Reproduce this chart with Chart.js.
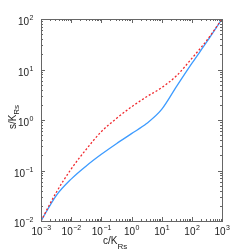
<!DOCTYPE html>
<html>
<head>
<meta charset="utf-8">
<script src="https://cdn.jsdelivr.net/npm/chart.js@4"></script>
<style>
  html, body { margin: 0; padding: 0; background: #fff; }
  canvas { display: block; }
</style>
</head>
<body>
<canvas id="chart" width="245" height="249"></canvas>
<script>
// c/K_Rs values (log spaced, half decades)
const cVals = [0.001, 0.00316, 0.01, 0.0316, 0.1, 0.316, 1, 3.16, 10, 31.6, 100, 316, 1000];
// s/K_Rs, blue solid curve
const sBlue = [0.01, 0.0316, 0.0676, 0.123, 0.209, 0.339, 0.537, 0.851, 1.62, 4.68, 13.2, 35.5, 100];
// s/K_Rs, red dashed curve
const sRed = [0.01, 0.0363, 0.107, 0.263, 0.589, 1.07, 1.82, 2.88, 4.37, 7.59, 16.6, 38.0, 100];
const xExps = [-3, -2, -1, 0, 1, 2, 3];
const yExps = [-2, -1, 0, 1, 2];

const FONT = '"Liberation Sans", Arial, sans-serif';

function pts(ys) {
  return cVals.map((c, i) => ({ x: c, y: ys[i] }));
}

// box, inward ticks, labels with superscripts and subscripted titles
const axesPlugin = {
  id: 'axesPlugin',
  afterDraw(chart) {
    const ctx = chart.ctx;
    const a = chart.chartArea;
    const xs = chart.scales.x, ys = chart.scales.y;
    ctx.save();
    ctx.strokeStyle = '#666';
    ctx.lineWidth = 1;
    ctx.strokeRect(Math.round(a.left) + 0.5, Math.round(a.top) + 0.5,
      Math.round(a.right - a.left), Math.round(a.bottom - a.top));

    ctx.beginPath();
    for (let n = -3; n <= 3; n++) {
      for (let m = 1; m < 10; m++) {
        const v = m * Math.pow(10, n);
        if (v > 1000) break;
        const px = Math.round(xs.getPixelForValue(v)) + 0.5;
        const len = m === 1 ? 4 : 2;
        ctx.moveTo(px, a.bottom); ctx.lineTo(px, a.bottom - len);
        ctx.moveTo(px, a.top); ctx.lineTo(px, a.top + len);
      }
    }
    for (let n = -2; n <= 2; n++) {
      for (let m = 1; m < 10; m++) {
        const v = m * Math.pow(10, n);
        if (v > 100) break;
        const py = Math.round(ys.getPixelForValue(v)) + 0.5;
        const len = m === 1 ? 4 : 2;
        ctx.moveTo(a.left, py); ctx.lineTo(a.left + len, py);
        ctx.moveTo(a.right, py); ctx.lineTo(a.right - len, py);
      }
    }
    ctx.stroke();

    ctx.fillStyle = '#222';
    ctx.textBaseline = 'alphabetic';
    ctx.textAlign = 'left';
    const big = '10px ' + FONT, small = '7px ' + FONT;

    xExps.forEach(n => {
      const px = xs.getPixelForValue(Math.pow(10, n));
      const e = String(n).replace('-', '\u2212');
      ctx.font = big; const w1 = ctx.measureText('10').width;
      ctx.font = small; const w2 = ctx.measureText(e).width;
      const x0 = px - (w1 + w2) / 2;
      ctx.font = big; ctx.fillText('10', x0, 235);
      ctx.font = small; ctx.fillText(e, x0 + w1 + 0.5, 229.5);
    });

    yExps.forEach(n => {
      const py = ys.getPixelForValue(Math.pow(10, n));
      const e = String(n).replace('-', '\u2212');
      ctx.font = big; const w1 = ctx.measureText('10').width;
      ctx.font = small; const w2 = ctx.measureText(e).width;
      const x0 = 33 - w1 - w2;
      ctx.font = big; ctx.fillText('10', x0, py + 6);
      ctx.font = small; ctx.fillText(e, x0 + w1 + 0.5, py + 1);
    });

    // x title: c/K_Rs
    ctx.font = big;
    let wm = ctx.measureText('c/K').width;
    ctx.fillText('c/K', 103, 244);
    ctx.font = '8px ' + FONT;
    ctx.fillText('Rs', 103 + wm, 248.5);

    // y title: s/K_Rs rotated
    ctx.save();
    ctx.translate(15.5, 117);
    ctx.rotate(-Math.PI / 2);
    ctx.font = big;
    wm = ctx.measureText('s/K').width;
    ctx.font = '8px ' + FONT;
    const ws = ctx.measureText('Rs').width;
    const s0 = -(wm + ws) / 2;
    ctx.font = big;
    ctx.fillText('s/K', s0, 0);
    ctx.font = '8px ' + FONT;
    ctx.fillText('Rs', s0 + wm, 3.5);
    ctx.restore();

    ctx.restore();
  }
};

new Chart(document.getElementById('chart'), {
  type: 'line',
  data: {
    datasets: [
      {
        data: pts(sRed),
        borderColor: '#f0282d',
        borderWidth: 1.3,
        borderDash: [2, 2],
        pointRadius: 0,
        cubicInterpolationMode: 'monotone',
        fill: false
      },
      {
        data: pts(sBlue),
        borderColor: '#3d9bff',
        borderWidth: 1.3,
        pointRadius: 0,
        cubicInterpolationMode: 'monotone',
        fill: false
      }
    ]
  },
  options: {
    responsive: false,
    animation: false,
    layout: { padding: { left: 0, right: 23, top: 19, bottom: 0 } },
    plugins: { legend: { display: false }, tooltip: { enabled: false } },
    scales: {
      x: {
        type: 'logarithmic',
        min: 0.001, max: 1000,
        ticks: { display: false },
        grid: { display: false },
        border: { display: false },
        afterFit: s => { s.height = 28; }
      },
      y: {
        type: 'logarithmic',
        min: 0.01, max: 100,
        ticks: { display: false },
        grid: { display: false },
        border: { display: false },
        afterFit: s => { s.width = 41; }
      }
    }
  },
  plugins: [axesPlugin]
});
</script>
</body>
</html>
